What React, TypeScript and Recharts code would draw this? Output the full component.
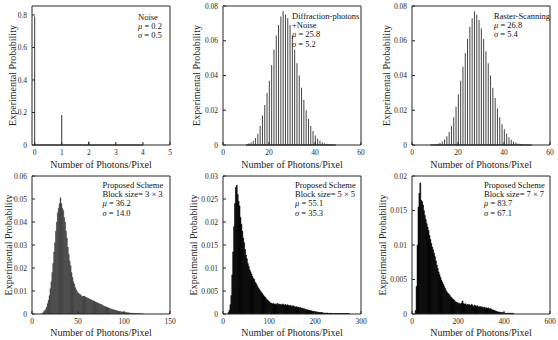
import { Bar, BarChart, ReferenceLine, XAxis, YAxis } from "recharts";

const FONT = '"Liberation Serif", "DejaVu Serif", serif';
const INK = "#262626";

// noise only
const noiseX = [0, 1, 2, 3, 4];
const noiseP = [0.79, 0.185, 0.022, 0.003, 0.0006];

// diffraction photons + noise, one bin per photon count
const diffX = [10, 11, 12, 13, 14, 15, 16, 17, 18, 19, 20, 21, 22, 23, 24, 25, 26, 27, 28, 29, 30, 31, 32, 33, 34, 35, 36, 37, 38, 39, 40, 41, 42, 43, 44, 45, 46, 47, 48, 49];
const diffP = [
  0.0004, 0.0008, 0.0015, 0.0025, 0.004, 0.0065, 0.011, 0.017, 0.023, 0.03,
  0.037, 0.046, 0.055, 0.063, 0.069, 0.074, 0.077, 0.075, 0.073, 0.069,
  0.063, 0.055, 0.047, 0.04, 0.033, 0.026, 0.02, 0.015, 0.011, 0.008,
  0.0055, 0.0038, 0.0025, 0.0016, 0.001, 0.0007, 0.0004, 0.0003, 0.0002, 0.0001,
];

// raster scanning
const rasterX = [8, 9, 10, 11, 12, 13, 14, 15, 16, 17, 18, 19, 20, 21, 22, 23, 24, 25, 26, 27, 28, 29, 30, 31, 32, 33, 34, 35, 36, 37, 38, 39, 40, 41, 42, 43, 44, 45, 46, 47, 48, 49, 50, 51, 52];
const rasterP = [
  0.0001, 0.0002, 0.0004, 0.0007, 0.0012, 0.002, 0.0032, 0.005, 0.0075, 0.011,
  0.016, 0.022, 0.029, 0.037, 0.045, 0.053, 0.061, 0.068, 0.073, 0.077,
  0.075, 0.072, 0.067, 0.061, 0.054, 0.047, 0.04, 0.033, 0.027, 0.021,
  0.016, 0.012, 0.009, 0.0065, 0.0045, 0.003, 0.002, 0.0014, 0.0009, 0.0006,
  0.0004, 0.0003, 0.0002, 0.0001, 0.0001,
];

// proposed scheme 3x3, bins of 1 starting at 11
const b3Start = 11;
const b3Width = 1;
const b3P = [
  0.0002, 0.0005, 0.001, 0.0015, 0.002, 0.003, 0.0045, 0.006, 0.008, 0.011,
  0.014, 0.018, 0.022, 0.027, 0.031, 0.036, 0.04, 0.044, 0.046, 0.048,
  0.0505, 0.048, 0.046, 0.045, 0.042, 0.04, 0.036, 0.033, 0.029, 0.026,
  0.023, 0.021, 0.018, 0.016, 0.014, 0.013, 0.0115, 0.0105, 0.0098, 0.0092,
  0.0088, 0.0086, 0.0083, 0.0078, 0.0075, 0.0077, 0.0078, 0.0074, 0.0072, 0.007,
  0.0068, 0.0066, 0.0064, 0.0062, 0.0061, 0.0058, 0.0057, 0.0055, 0.0052, 0.005,
  0.0049, 0.0047, 0.0045, 0.0043, 0.0041, 0.004, 0.0037, 0.0035, 0.0033, 0.0032,
  0.003, 0.0028, 0.0027, 0.0025, 0.0023, 0.0022, 0.0021, 0.0019, 0.0018, 0.0017,
  0.0016, 0.0014, 0.0013, 0.0012, 0.0011, 0.0011, 0.001, 0.0009, 0.0008, 0.0008,
  0.0007, 0.0006, 0.0006, 0.0005, 0.0005, 0.0004, 0.0004, 0.0003, 0.0003, 0.0003,
  0.0002, 0.0002, 0.0002, 0.0002, 0.0001, 0.0001, 0.0001, 0.0001, 0.0001, 0.0001,
];

// proposed scheme 5x5, bins of 2 starting at 12
const b5Start = 12;
const b5Width = 2;
const b5P = [
  0.0003, 0.0008, 0.002, 0.004, 0.0085, 0.0135, 0.019, 0.024, 0.0275, 0.028,
  0.026, 0.0245, 0.0235, 0.021, 0.0195, 0.018, 0.0165, 0.0155, 0.014, 0.0128,
  0.012, 0.011, 0.0104, 0.0096, 0.0092, 0.0087, 0.0082, 0.0077, 0.0075, 0.0069,
  0.0066, 0.0062, 0.0058, 0.0055, 0.0052, 0.0049, 0.0046, 0.0044, 0.0041, 0.0038,
  0.0036, 0.0033, 0.0031, 0.0029, 0.0027, 0.0025, 0.0024, 0.0023, 0.0022, 0.0023,
  0.0021, 0.0022, 0.002, 0.0023, 0.0021, 0.0022, 0.002, 0.0021, 0.0019, 0.0022,
  0.002, 0.0019, 0.0021, 0.0018, 0.002, 0.0019, 0.0017, 0.0019, 0.0018, 0.0016,
  0.0018, 0.0017, 0.0016, 0.0015, 0.0016, 0.0014, 0.0015, 0.0013, 0.0014, 0.0012,
  0.0013, 0.0011, 0.0012, 0.001, 0.001, 0.0009, 0.0009, 0.0008, 0.0008, 0.0007,
  0.0007, 0.0006, 0.0006, 0.0005, 0.0005, 0.0005, 0.0004, 0.0004, 0.0004, 0.0003,
  0.0003, 0.0003, 0.0003, 0.0002, 0.0002, 0.0002, 0.0002, 0.0002, 0.0002, 0.0001,
  0.0001, 0.0002, 0.0001, 0.0001, 0.0001, 0.0001, 0.0001, 0.0001, 0.0001, 0.0001,
  0.0001, 0.0001, 0.0001, 0.0001, 0.0001, 0.0001, 0.0001, 0.0001, 0.0001, 0.0001,
  0.0001, 0.0001,
];

// proposed scheme 7x7, bins of 4 starting at 16
const b7Start = 16;
const b7Width = 4;
const b7P = [
  0.0005, 0.004, 0.01, 0.0155, 0.0175, 0.019, 0.0165, 0.0163, 0.0158, 0.015,
  0.0143, 0.0137, 0.0131, 0.0126, 0.0121, 0.0114, 0.0108, 0.0102, 0.0097, 0.0093,
  0.0088, 0.0083, 0.0077, 0.0071, 0.0066, 0.0061, 0.0057, 0.0053, 0.0049, 0.0046,
  0.0043, 0.004, 0.0037, 0.0034, 0.0032, 0.003, 0.0029, 0.0027, 0.0025, 0.0024,
  0.0022, 0.0021, 0.002, 0.0018, 0.0017, 0.0017, 0.0015, 0.0016, 0.0014, 0.0015,
  0.0016, 0.0019, 0.0015, 0.0014, 0.0015, 0.0013, 0.0014, 0.0013, 0.0014, 0.0012,
  0.0013, 0.0014, 0.0012, 0.0011, 0.0013, 0.0012, 0.0011, 0.0012, 0.001, 0.0011,
  0.001, 0.0011, 0.0009, 0.001, 0.0009, 0.001, 0.0008, 0.0009, 0.0008, 0.0009,
  0.0007, 0.0008, 0.0007, 0.0006, 0.0006, 0.0005, 0.0005, 0.0004, 0.0004, 0.0003,
  0.0003, 0.0003, 0.0002, 0.0002, 0.0002, 0.0002, 0.0002, 0.0001, 0.0001, 0.0001,
  0.0001, 0.0001, 0.0001, 0.0001, 0.0001, 0.0001, 0.0001,
];

const binsFrom = (start: number, width: number, n: number) => Array.from({ length: n }, (_, i) => start + i * width);

type PanelProps = {
  left: number;
  top: number;
  axisW: number;
  axisH: number;
  right: number;
  xs: number[];
  ps: number[];
  xDomain: [number, number];
  xTicks: number[];
  yDomain: [number, number];
  yTicks: number[];
  fill: string;
  barSize?: number;
  edge?: number;
  baseline?: boolean;
  yLabelOffset: number;
  xLabelOffset: number;
  note: React.ReactNode;
  noteX: number;
  noteY: number;
};

function Panel(p: PanelProps) {
  const data = p.xs.map((x, i) => ({ x, p: p.ps[i] }));
  const tickStyle = { fontSize: 7.5, fontFamily: FONT, fill: INK };
  const titleStyle = { fontSize: 10, fontFamily: FONT, fill: INK };
  return (
    <div style={{ position: "absolute", left: p.left, top: p.top, width: 186, height: 170, fontFamily: FONT }}>
      <BarChart width={186} height={170} data={data} margin={{ top: 5, right: p.right - 1, bottom: 0, left: 0 }} barCategoryGap={0} barGap={0} style={{ fontFamily: FONT }}>
        <XAxis
          dataKey="x" type="number" domain={p.xDomain} ticks={p.xTicks} allowDataOverflow interval={0}
          height={p.axisH} tickSize={-3} tickMargin={8} stroke={INK} tick={tickStyle}
          label={{ value: "Number of Photons/Pixel", position: "insideBottom", offset: p.xLabelOffset, style: titleStyle }}
        />
        <XAxis xAxisId="t" orientation="top" type="number" domain={p.xDomain} ticks={p.xTicks} allowDataOverflow interval={0} height={1} tickSize={-3} stroke={INK} tick={false} />
        <YAxis
          type="number" domain={p.yDomain} ticks={p.yTicks} allowDataOverflow interval={0}
          width={p.axisW} tickSize={-3} tickMargin={8} stroke={INK} tick={tickStyle}
          label={{ value: "Experimental Probability", angle: -90, position: "insideLeft", offset: p.yLabelOffset, style: { ...titleStyle, textAnchor: "middle" } }}
        />
        <YAxis yAxisId="r" orientation="right" type="number" domain={p.yDomain} ticks={p.yTicks} allowDataOverflow interval={0} width={1} tickSize={-3} stroke={INK} tick={false} />
        <Bar dataKey="p" fill={p.fill} stroke={p.edge ? p.fill : undefined} strokeWidth={p.edge} barSize={p.barSize} isAnimationActive={false} />
        {p.baseline && (
          <ReferenceLine segment={[{ x: p.xs[0], y: 0 }, { x: p.xs[p.xs.length - 1], y: 0 }]} stroke="#111" strokeWidth={1.2} />
        )}
      </BarChart>
      <div style={{ position: "absolute", left: p.noteX, top: p.noteY, fontFamily: FONT, fontSize: 8.5, lineHeight: "9.2px", color: "#111", whiteSpace: "nowrap" }}>
        {p.note}
      </div>
    </div>
  );
}

export default function App() {
  return (
    <div style={{ position: "absolute", left: 0, top: 0, width: 558, height: 340, background: "#fff", fontFamily: FONT }}>
      <Panel
        left={0} top={0} axisW={32} axisH={25} right={16}
        xs={noiseX} ps={noiseP} xDomain={[-0.1, 5]} xTicks={[0, 1, 2, 3, 4, 5]}
        yDomain={[0, 0.855]} yTicks={[0, 0.2, 0.4, 0.6, 0.8]} fill="#333" barSize={1} baseline
        yLabelOffset={12} xLabelOffset={2} noteX={138} noteY={12.5}
        note={<>Noise<br /><i>μ</i> = 0.2<br /><i>σ</i> = 0.5</>}
      />
      <Panel
        left={186} top={0} axisW={37} axisH={25} right={11}
        xs={diffX} ps={diffP} xDomain={[0, 60]} xTicks={[0, 20, 40, 60]}
        yDomain={[0, 0.08]} yTicks={[0, 0.02, 0.04, 0.06, 0.08]} fill="#444" barSize={1} baseline
        yLabelOffset={10.7} xLabelOffset={2} noteX={106} noteY={12}
        note={<>Diffraction-photons<br />+Noise<br /><i>μ</i> = 25.8<br /><i>σ</i> = 5.2</>}
      />
      <Panel
        left={372} top={0} axisW={40} axisH={25} right={8}
        xs={rasterX} ps={rasterP} xDomain={[0, 60]} xTicks={[0, 20, 40, 60]}
        yDomain={[0, 0.08]} yTicks={[0, 0.02, 0.04, 0.06, 0.08]} fill="#444" barSize={1} baseline
        yLabelOffset={14.7} xLabelOffset={2} noteX={122} noteY={12}
        note={<>Raster-Scanning<br /><i>μ</i> = 26.8<br /><i>σ</i> = 5.4</>}
      />
      <Panel
        left={0} top={170} axisW={32} axisH={26} right={16}
        xs={binsFrom(b3Start, b3Width, b3P.length)} ps={b3P} xDomain={[0, 150]} xTicks={[0, 50, 100, 150]}
        yDomain={[0, 0.06]} yTicks={[0, 0.01, 0.02, 0.03, 0.04, 0.05, 0.06]} fill="#404040" edge={0.4}
        yLabelOffset={8.3} xLabelOffset={4.5} noteX={102.5} noteY={11}
        note={<>Proposed Scheme<br />Block size= 3 × 3<br /><i>μ</i> = 36.2<br /><i>σ</i> = 14.0</>}
      />
      <Panel
        left={186} top={170} axisW={37} axisH={26} right={11}
        xs={binsFrom(b5Start, b5Width, b5P.length)} ps={b5P} xDomain={[0, 300]} xTicks={[0, 100, 200, 300]}
        yDomain={[0, 0.03]} yTicks={[0, 0.005, 0.01, 0.015, 0.02, 0.025, 0.03]} fill="#000" edge={0.5}
        yLabelOffset={7.3} xLabelOffset={4.5} noteX={109} noteY={11}
        note={<>Proposed Scheme<br />Block size= 5 × 5<br /><i>μ</i> = 55.1<br /><i>σ</i> = 35.3</>}
      />
      <Panel
        left={372} top={170} axisW={40} axisH={26} right={8}
        xs={binsFrom(b7Start, b7Width, b7P.length)} ps={b7P} xDomain={[0, 600]} xTicks={[0, 200, 400, 600]}
        yDomain={[0, 0.02]} yTicks={[0, 0.005, 0.01, 0.015, 0.02]} fill="#000" edge={0.5}
        yLabelOffset={10.3} xLabelOffset={4.5} noteX={112} noteY={11}
        note={<>Proposed Scheme<br />Block size= 7 × 7<br /><i>μ</i> = 83.7<br /><i>σ</i> = 67.1</>}
      />
    </div>
  );
}
